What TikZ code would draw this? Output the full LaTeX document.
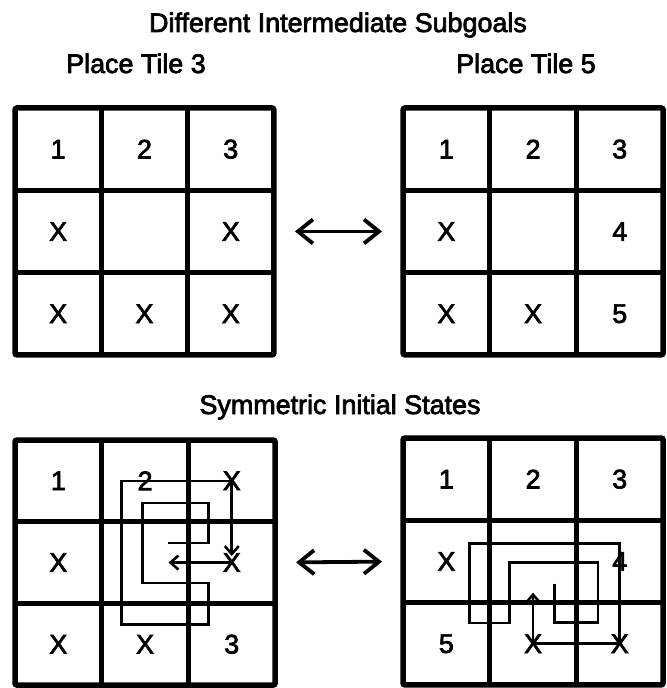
\documentclass[tikz,border=0pt]{standalone}
\usepackage{fontspec}
\setmainfont{Liberation Sans}
\newfontfamily\scanfont{Liberation Sans}[FakeBold=2.6]
\usetikzlibrary{arrows.meta}

\tikzset{
  gridframe/.style={line width=5.5bp, rounded corners=2bp},
  divider/.style={line width=4.5bp},
  tile/.style={font=\scanfont\fontsize{27}{27}\selectfont},
  caption/.style={font=\scanfont\fontsize{27}{30}\selectfont, anchor=base},
  blankpath/.style={line width=2.6bp},
  blankmove/.style={-{Straight Barb[length=8bp,width=14bp]}},
  exchange/.style={line width=3.8bp,
    {Straight Barb[length=15bp,width=24bp]}-{Straight Barb[length=15bp,width=24bp]},
    shorten <=21bp, shorten >=21bp}
}

\begin{document}
\begin{tikzpicture}[x=1bp, y=-1bp]
  \useasboundingbox (0,0) rectangle (667,688);

  % headings
  \node[caption] (title) at (338,32) {Different Intermediate Subgoals};
  \node[caption] (goal3) at (136,73) {Place Tile 3};
  \node[caption] (goal5) at (526,73) {Place Tile 5};
  \node[caption] (symm) at (340,414) {Symmetric Initial States};

  % subgoal: place tile 3
  \begin{scope}[shift={(15,108)}, x=86.3bp, y=-82.3bp]
    \draw[gridframe] (0,0) rectangle (3,3);
    \foreach \k in {1,2} {
      \draw[divider] (\k,0) -- (\k,3);
      \draw[divider] (0,\k) -- (3,\k);
    }
    \foreach \row [count=\j from 0] in {{1,2,3},{X,,X},{X,X,X}}
      \foreach \t [count=\i from 0] in \row
        \node[tile] (pa-\i-\j) at (\i+.5,\j+.5) {\t};
    \coordinate (pa-e) at (3,1.5);
  \end{scope}

  % subgoal: place tile 5
  \begin{scope}[shift={(403,108)}, x=86.7bp, y=-82.3bp]
    \draw[gridframe] (0,0) rectangle (3,3);
    \foreach \k in {1,2} {
      \draw[divider] (\k,0) -- (\k,3);
      \draw[divider] (0,\k) -- (3,\k);
    }
    \foreach \row [count=\j from 0] in {{1,2,3},{X,,4},{X,X,5}}
      \foreach \t [count=\i from 0] in \row
        \node[tile] (pb-\i-\j) at (\i+.5,\j+.5) {\t};
    \coordinate (pb-w) at (0,1.5);
  \end{scope}

  \draw[exchange] (pa-e) -- (pb-w);

  % initial state, left
  \begin{scope}[shift={(15,440)}, x=86.7bp, y=-81.7bp]
    \draw[gridframe] (0,0) rectangle (3,3);
    \foreach \k in {1,2} {
      \draw[divider] (\k,0) -- (\k,3);
      \draw[divider] (0,\k) -- (3,\k);
    }
    \foreach \row [count=\j from 0] in {{1,2,X},{X,,X},{X,X,3}}
      \foreach \t [count=\i from 0] in \row
        \node[tile] (sa-\i-\j) at (\i+.5,\j+.5) {\t};
    \coordinate (sa-e) at (3,1.5);
    \draw[blankpath] (1.77,1.26) -- (2.23,1.26) -- (2.23,0.77) -- (1.47,0.77)
      -- (1.47,1.75) -- (2.23,1.75) -- (2.23,2.26) -- (1.23,2.26)
      -- (1.23,0.5) -- (sa-2-0.center);
    \draw[blankpath, blankmove] (sa-2-0.center) -- (2.5,1.42);
    \draw[blankpath, blankmove] (sa-2-1.center) -- (1.77,1.5);
  \end{scope}

  % initial state, right
  \begin{scope}[shift={(403,438)}, x=86.7bp, y=-82.3bp]
    \draw[gridframe] (0,0) rectangle (3,3);
    \foreach \k in {1,2} {
      \draw[divider] (\k,0) -- (\k,3);
      \draw[divider] (0,\k) -- (3,\k);
    }
    \foreach \row [count=\j from 0] in {{1,2,3},{X,,4},{5,X,X}}
      \foreach \t [count=\i from 0] in \row
        \node[tile] (sb-\i-\j) at (\i+.5,\j+.5) {\t};
    \coordinate (sb-w) at (0,1.5);
    \draw[blankpath] (1.75,1.77) -- (1.75,2.24) -- (2.25,2.24) -- (2.25,1.51)
      -- (1.23,1.51) -- (1.23,2.25) -- (0.77,2.25) -- (0.77,1.28)
      -- (2.5,1.28) -- (sb-2-2.center);
    \draw[blankpath] (sb-2-2.center) -- (sb-1-2.center);
    \draw[blankpath, blankmove] (sb-1-2.center) -- (1.5,1.88);
  \end{scope}

  \draw[exchange] (sa-e) -- (sb-w);
\end{tikzpicture}
\end{document}
